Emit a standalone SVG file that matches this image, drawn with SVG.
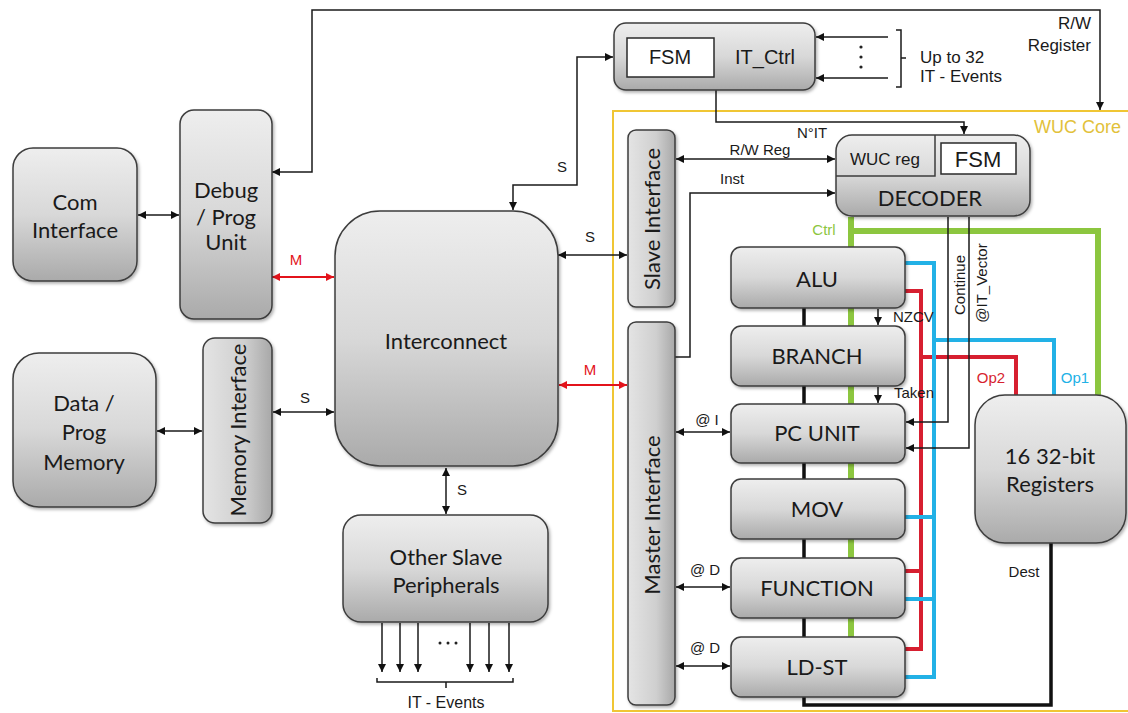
<svg xmlns="http://www.w3.org/2000/svg" width="1128" height="713" viewBox="0 0 1128 713">
<style>
.box{stroke:#3d3d3d;stroke-width:1.5;fill:url(#gv);filter:url(#sh)}
.boxh{stroke:#3d3d3d;stroke-width:1.5;fill:url(#gh);filter:url(#sh)}
.n{font-family:Lato,"Liberation Sans",sans-serif;font-size:22px;fill:#1a1a1a;text-anchor:middle}
.a{font-family:"Liberation Sans",Arial,sans-serif;fill:#1a1a1a}
.l{font-family:"Liberation Sans",Arial,sans-serif;font-size:15px;fill:#1a1a1a}
.c{fill:none;stroke:#1a1a1a;stroke-width:1.5}
.cr{fill:none;stroke:#e3131b;stroke-width:2}
.bus-r{fill:none;stroke:#d71f30;stroke-width:4}
.bus-b{fill:none;stroke:#22b1e6;stroke-width:4}
.bus-g{fill:none;stroke:#8cc63f;stroke-width:6}
.bus-k{fill:none;stroke:#111;stroke-width:3.5}
</style>
<defs>
<linearGradient id="gv" x1="0" y1="0" x2="0" y2="1">
<stop offset="0" stop-color="#eeeeee"/><stop offset="0.5" stop-color="#d8d8d8"/><stop offset="1" stop-color="#aaaaaa"/>
</linearGradient>
<linearGradient id="gh" x1="0" y1="0" x2="1" y2="0">
<stop offset="0" stop-color="#e4e4e4"/><stop offset="0.6" stop-color="#cfcfcf"/><stop offset="1" stop-color="#a8a8a8"/>
</linearGradient>
<filter id="sh" x="-10%" y="-10%" width="125%" height="125%">
<feDropShadow dx="1.5" dy="2" stdDeviation="1.5" flood-color="#000" flood-opacity="0.3"/>
</filter>
<marker id="ah" viewBox="0 0 10 10" refX="10" refY="5" markerWidth="9" markerHeight="8" markerUnits="userSpaceOnUse" orient="auto-start-reverse">
<path d="M0,0 L10,5 L0,10 z" fill="#111"/>
</marker>
<marker id="ahr" viewBox="0 0 10 10" refX="10" refY="5" markerWidth="9" markerHeight="8" markerUnits="userSpaceOnUse" orient="auto-start-reverse">
<path d="M0,0 L10,5 L0,10 z" fill="#e3131b"/>
</marker>
</defs>
<rect width="1128" height="713" fill="#ffffff"/>

<g id="wuc-core">
<rect x="613" y="111" width="520" height="600" fill="none" stroke="#f0c634" stroke-width="2"/>
<text x="1034" y="133" class="a" font-size="18" style="fill:#e2c13a">WUC Core</text>
</g>

<g id="connectors">
<path class="bus-k" d="M804,280 V705 H1051 V543"/>
<path class="bus-g" d="M851,217 V660"/>
<path class="bus-g" d="M851,231 H1098 V395"/>
<path class="bus-r" d="M905,291 H921 V649 H905 M905,571 H921 M921,357 H1016 V395"/>
<path class="bus-b" d="M905,263 H934 V677 H905 M905,517 H934 M905,599 H934 M934,340 H1054 V395"/>
<path class="c" d="M1100,110 V10 H312 V172 H272" marker-start="url(#ah)" marker-end="url(#ah)"/>
<path class="c" d="M513,210 V185 H577 V57 H613" marker-start="url(#ah)" marker-end="url(#ah)"/>
<path class="c" d="M138,215 H179" marker-start="url(#ah)" marker-end="url(#ah)"/>
<path class="c" d="M157,431 H202" marker-start="url(#ah)" marker-end="url(#ah)"/>
<path class="c" d="M273,412 H334" marker-start="url(#ah)" marker-end="url(#ah)"/>
<path class="c" d="M446,468 V514" marker-start="url(#ah)" marker-end="url(#ah)"/>
<path class="c" d="M558,255 H627" marker-start="url(#ah)" marker-end="url(#ah)"/>
<path class="c" d="M676,159 H835" marker-start="url(#ah)" marker-end="url(#ah)"/>
<path class="c" d="M675,357 H690 V193 H835" marker-end="url(#ah)"/>
<path class="c" d="M716,90 V122 H964 V134" marker-end="url(#ah)"/>
<path class="c" d="M888,37 H816" marker-end="url(#ah)"/>
<path class="c" d="M888,78 H816" marker-end="url(#ah)"/>
<path class="c" d="M948,217 V422 H906" marker-end="url(#ah)"/>
<path class="c" d="M969,217 V448 H906" marker-end="url(#ah)"/>
<path class="c" d="M878,309 V325" marker-end="url(#ah)"/>
<path class="c" d="M878,387 V403" marker-end="url(#ah)"/>
<path class="c" d="M676,432 H730" marker-start="url(#ah)" marker-end="url(#ah)"/>
<path class="c" d="M676,587 H730" marker-start="url(#ah)" marker-end="url(#ah)"/>
<path class="c" d="M676,666 H730" marker-start="url(#ah)" marker-end="url(#ah)"/>
<path class="c" d="M382,623 V672" marker-end="url(#ah)"/>
<path class="c" d="M400,623 V672" marker-end="url(#ah)"/>
<path class="c" d="M418,623 V672" marker-end="url(#ah)"/>
<path class="c" d="M470,623 V672" marker-end="url(#ah)"/>
<path class="c" d="M489,623 V672" marker-end="url(#ah)"/>
<path class="c" d="M509,623 V672" marker-end="url(#ah)"/>
<path class="cr" d="M272,277 H334" marker-start="url(#ahr)" marker-end="url(#ahr)"/>
<path class="cr" d="M559,385 H627" marker-start="url(#ahr)" marker-end="url(#ahr)"/>
<path class="c" stroke-width="1.2" d="M896,30 H901 V87 H896 M901,58 H906"/>
<path class="c" stroke-width="1.2" d="M377,678 V682 H513 V678 M446,682 V688"/>
<circle cx="861" cy="47" r="1.6" fill="#222"/><circle cx="861" cy="57" r="1.6" fill="#222"/><circle cx="861" cy="67" r="1.6" fill="#222"/>
<circle cx="440" cy="643" r="1.5" fill="#222"/><circle cx="448" cy="643" r="1.5" fill="#222"/><circle cx="456" cy="643" r="1.5" fill="#222"/>
<text x="1091" y="29" class="a" font-size="17" text-anchor="end">R/W</text>
<text x="1091" y="51" class="a" font-size="17" text-anchor="end">Register</text>
<text x="920" y="63" class="a" font-size="17">Up to 32</text>
<text x="920" y="82" class="a" font-size="17">IT - Events</text>
<text x="812" y="138" class="l" text-anchor="middle">N°IT</text>
<text x="760" y="155" class="l" text-anchor="middle">R/W Reg</text>
<text x="720" y="184" class="l">Inst</text>
<text x="824" y="235" class="l" text-anchor="middle" style="fill:#8cc63f">Ctrl</text>
<text x="893" y="322" class="l">NZCV</text>
<text x="894" y="398" class="l">Taken</text>
<text x="991" y="383" class="l" text-anchor="middle" style="fill:#d71f30">Op2</text>
<text x="1075" y="383" class="l" text-anchor="middle" style="fill:#22b1e6">Op1</text>
<text transform="translate(960,285) rotate(-90)" y="5" class="l" text-anchor="middle">Continue</text>
<text transform="translate(982,283) rotate(-90)" y="5" class="l" text-anchor="middle">@IT_Vector</text>
<text x="1024" y="577" class="l" text-anchor="middle">Dest</text>
<text x="707" y="425" class="l" text-anchor="middle">@ I</text>
<text x="705" y="575" class="l" text-anchor="middle">@ D</text>
<text x="705" y="653" class="l" text-anchor="middle">@ D</text>
<text x="562" y="172" class="l" text-anchor="middle">S</text>
<text x="590" y="242" class="l" text-anchor="middle">S</text>
<text x="305" y="403" class="l" text-anchor="middle">S</text>
<text x="462" y="495" class="l" text-anchor="middle">S</text>
<text x="296" y="265" class="l" text-anchor="middle" style="fill:#e3131b">M</text>
<text x="590" y="375" class="l" text-anchor="middle" style="fill:#e3131b">M</text>
<text x="446" y="708" class="a" font-size="16" text-anchor="middle">IT - Events</text>
</g>

<g id="com-interface">
<rect class="box" x="13" y="148" width="124" height="133" rx="20"/>
<text class="n" x="75" y="210">Com</text>
<text class="n" x="75" y="238">Interface</text>
</g>
<g id="debug-prog-unit">
<rect class="box" x="180" y="110" width="92" height="209" rx="14"/>
<text class="n" x="226" y="198" font-size="21">Debug</text>
<text class="n" x="226" y="225" font-size="21">/ Prog</text>
<text class="n" x="226" y="250" font-size="21">Unit</text>
</g>
<g id="data-prog-memory">
<rect class="box" x="13" y="353" width="143" height="154" rx="26"/>
<text class="n" x="84" y="411">Data /</text>
<text class="n" x="84" y="440">Prog</text>
<text class="n" x="84" y="470">Memory</text>
</g>
<g id="memory-interface">
<rect class="boxh" x="203" y="338" width="69" height="185" rx="12"/>
<text class="n" transform="translate(239,430) rotate(-90)" y="7" font-size="21">Memory Interface</text>
</g>
<g id="interconnect">
<rect class="box" x="335" y="211" width="223" height="255" rx="45"/>
<text class="n" x="446" y="349">Interconnect</text>
</g>
<g id="other-slave-peripherals">
<rect class="box" x="343" y="515" width="205" height="107" rx="18"/>
<text class="n" x="446" y="565">Other Slave</text>
<text class="n" x="446" y="593">Peripherals</text>
</g>
<g id="it-ctrl">
<rect class="box" x="614" y="23" width="201" height="67" rx="12"/>
<rect x="627" y="38" width="87" height="39" fill="#ffffff" stroke="#2a2a2a" stroke-width="1.5"/>
<text class="a" x="670" y="64" font-size="20" text-anchor="middle">FSM</text>
<text class="a" x="765" y="64" font-size="20" text-anchor="middle">IT_Ctrl</text>
</g>
<g id="slave-interface">
<rect class="boxh" x="628" y="130" width="47" height="177" rx="8"/>
<text class="n" transform="translate(652,219) rotate(-90)" y="8">Slave Interface</text>
</g>
<g id="master-interface">
<rect class="boxh" x="628" y="322" width="47" height="383" rx="8"/>
<text class="n" transform="translate(652,515) rotate(-90)" y="8">Master Interface</text>
</g>
<g id="decoder">
<rect class="box" x="836" y="135" width="194" height="81" rx="16"/>
<path d="M935,135 V176 H836" fill="none" stroke="#3d3d3d" stroke-width="1.5"/>
<rect x="941" y="143" width="75" height="31" fill="#ffffff" stroke="#2a2a2a" stroke-width="1.5"/>
<text class="a" x="885" y="165" font-size="17" text-anchor="middle">WUC reg</text>
<text class="a" x="978" y="167" font-size="22" text-anchor="middle">FSM</text>
<text class="n" x="930" y="206" font-size="21">DECODER</text>
</g>
<g id="alu">
<rect class="box" x="731" y="247" width="174" height="61" rx="10"/>
<text class="n" x="817" y="287" font-size="21">ALU</text>
</g>
<g id="branch">
<rect class="box" x="731" y="326" width="174" height="60" rx="10"/>
<text class="n" x="817" y="364" font-size="21">BRANCH</text>
</g>
<g id="pc-unit">
<rect class="box" x="731" y="404" width="174" height="59" rx="10"/>
<text class="n" x="817" y="441" font-size="21">PC UNIT</text>
</g>
<g id="mov">
<rect class="box" x="731" y="479" width="174" height="60" rx="10"/>
<text class="n" x="817" y="517" font-size="21">MOV</text>
</g>
<g id="function">
<rect class="box" x="731" y="558" width="174" height="60" rx="10"/>
<text class="n" x="817" y="596" font-size="21">FUNCTION</text>
</g>
<g id="ld-st">
<rect class="box" x="731" y="637" width="174" height="60" rx="10"/>
<text class="n" x="817" y="675" font-size="21">LD-ST</text>
</g>
<g id="registers">
<rect class="box" x="975" y="395" width="151" height="148" rx="30"/>
<text class="n" x="1050" y="464">16 32-bit</text>
<text class="n" x="1050" y="492">Registers</text>
</g>
</svg>
